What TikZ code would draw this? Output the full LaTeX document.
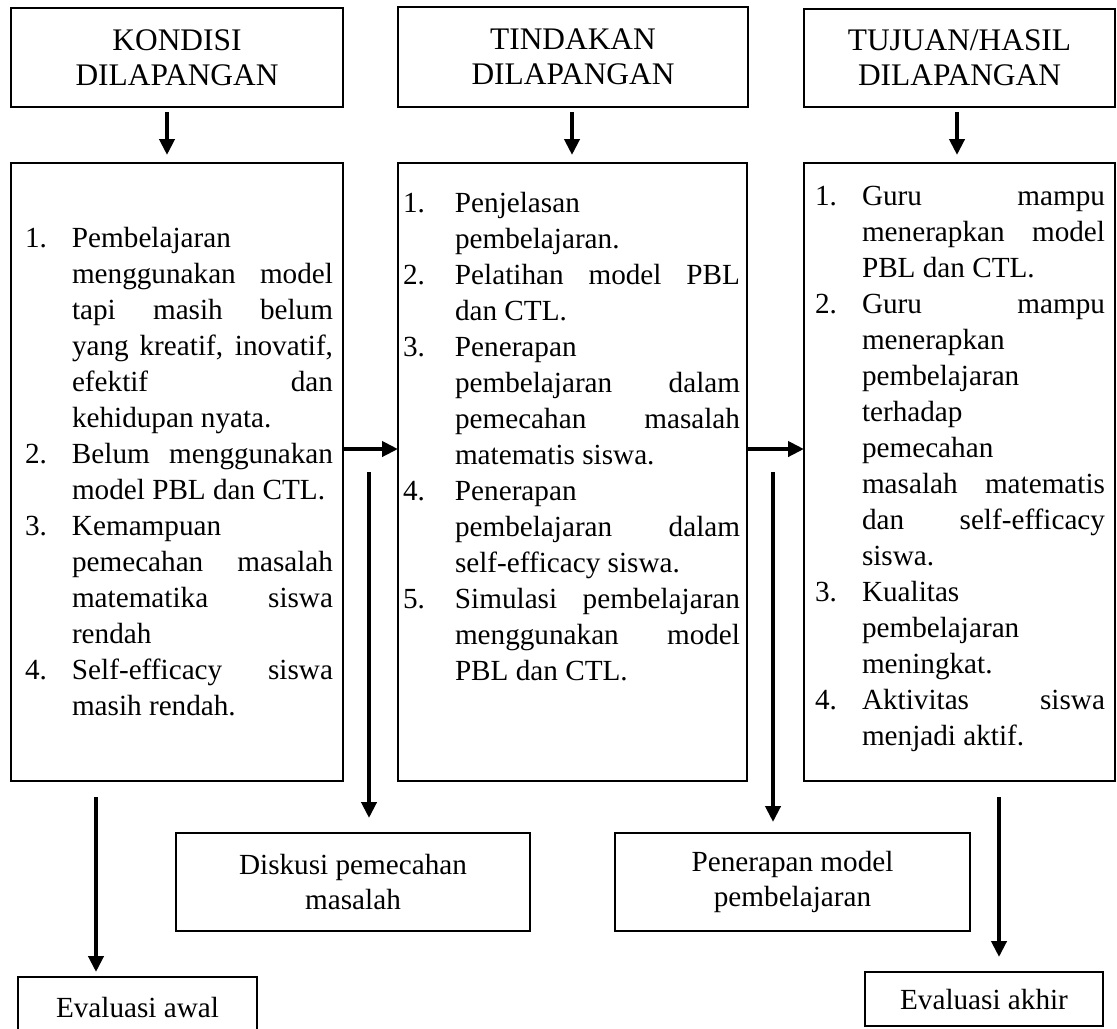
\documentclass[tikz,border=0pt]{standalone}
\usepackage{fontspec}
\setmainfont[Ligatures=CommonOff]{Liberation Serif}
\usetikzlibrary{arrows.meta}
\newlength\lcw
\newcommand\JLine[1]{\makebox[\lcw][s]{#1}}
\newcommand\LLine[1]{\makebox[\lcw][l]{#1}}
\begin{document}
\begin{tikzpicture}[x=0.4pt,y=-0.4pt,
  box/.style={draw, line width=1.1pt, inner sep=0pt, outer sep=0pt, anchor=north west},
  hdr/.style={font=\fontsize{12.56pt}{14pt}\selectfont, align=center},
  btx/.style={font=\fontsize{11.68pt}{14pt}\selectfont, align=center},
  lst/.style={inner sep=0pt, outer sep=0pt, anchor=base west, font=\fontsize{11.68pt}{14.4pt}\selectfont},
  arr/.style={line width=1.6pt, -{Triangle[length=6.4pt,width=6pt]}}]
\path[use as bounding box] (0,0) rectangle (1117,1028);
\clip (0,0) rectangle (1117,1028);

% header boxes
\node[box, hdr, minimum width=332*0.4pt, minimum height=99*0.4pt] (h1) at (11,8) {KONDISI\\DILAPANGAN};
\node[box, hdr, minimum width=350*0.4pt, minimum height=100*0.4pt] (h2) at (398,7) {TINDAKAN\\DILAPANGAN};
\node[box, hdr, minimum width=311*0.4pt, minimum height=98*0.4pt] (h3) at (804,9) {TUJUAN/HASIL\\DILAPANGAN};

% main boxes
\node[box, minimum width=332*0.4pt, minimum height=618*0.4pt] (m1) at (11,163) {};
\node[box, minimum width=349*0.4pt, minimum height=618*0.4pt] (m2) at (398,163) {};
\node[box, minimum width=311*0.4pt, minimum height=618*0.4pt] (m3) at (804,163) {};

% list texts
\node[lst] (l1) at (25,247) {\setlength\lcw{104.4pt}%
\begin{tabular}[t]{@{}p{18.8pt}@{}l@{}}
1. & \LLine{Pembelajaran}\\
   & \JLine{menggunakan model}\\
   & \JLine{tapi masih belum}\\
   & \JLine{yang kreatif, inovatif,}\\
   & \JLine{efektif dan}\\
   & \LLine{kehidupan nyata.}\\
2. & \JLine{Belum menggunakan}\\
   & \LLine{model PBL dan CTL.}\\
3. & \LLine{Kemampuan}\\
   & \JLine{pemecahan masalah}\\
   & \JLine{matematika siswa}\\
   & \LLine{rendah}\\
4. & \JLine{Self-efficacy siswa}\\
   & \LLine{masih rendah.}
\end{tabular}};

\node[lst] (l2) at (403,212) {\setlength\lcw{114pt}%
\begin{tabular}[t]{@{}p{20.8pt}@{}l@{}}
1. & \LLine{Penjelasan}\\
   & \LLine{pembelajaran.}\\
2. & \JLine{Pelatihan model PBL}\\
   & \LLine{dan CTL.}\\
3. & \LLine{Penerapan}\\
   & \JLine{pembelajaran dalam}\\
   & \JLine{pemecahan masalah}\\
   & \LLine{matematis siswa.}\\
4. & \LLine{Penerapan}\\
   & \JLine{pembelajaran dalam}\\
   & \LLine{self-efficacy siswa.}\\
5. & \JLine{Simulasi pembelajaran}\\
   & \JLine{menggunakan model}\\
   & \LLine{PBL dan CTL.}
\end{tabular}};

\node[lst] (l3) at (815,205) {\setlength\lcw{97.2pt}%
\begin{tabular}[t]{@{}p{18.8pt}@{}l@{}}
1. & \JLine{Guru mampu}\\
   & \JLine{menerapkan model}\\
   & \LLine{PBL dan CTL.}\\
2. & \JLine{Guru mampu}\\
   & \LLine{menerapkan}\\
   & \LLine{pembelajaran}\\
   & \LLine{terhadap}\\
   & \LLine{pemecahan}\\
   & \JLine{masalah matematis}\\
   & \JLine{dan self-efficacy}\\
   & \LLine{siswa.}\\
3. & \LLine{Kualitas}\\
   & \LLine{pembelajaran}\\
   & \LLine{meningkat.}\\
4. & \JLine{Aktivitas siswa}\\
   & \LLine{menjadi aktif.}
\end{tabular}};

% lower boxes
\node[box, btx, minimum width=354*0.4pt, minimum height=98*0.4pt] (d1) at (176,833) {Diskusi pemecahan\\masalah};
\node[box, btx, minimum width=355*0.4pt, minimum height=98*0.4pt] (d2) at (615,833) {Penerapan model\\pembelajaran};
\node[box, btx, minimum width=239*0.4pt, minimum height=60*0.4pt] (e1) at (18,977) {Evaluasi awal};
\node[box, btx, minimum width=238*0.4pt, minimum height=54*0.4pt] (e2) at (865,972) {Evaluasi akhir};

% connector end points
\coordinate (a1s) at (167,112); \coordinate (a1e) at (167,155);
\coordinate (a2s) at (572,112); \coordinate (a2e) at (572,155);
\coordinate (a3s) at (957,112); \coordinate (a3e) at (957,155);
\coordinate (hy) at (0,449);
\coordinate (v1s) at (369,472); \coordinate (v1e) at (369,818);
\coordinate (v2s) at (773,472); \coordinate (v2e) at (773,822);
\coordinate (v3s) at (96,797);  \coordinate (v3e) at (96,972);
\coordinate (v4s) at (999,797); \coordinate (v4e) at (999,957);

\draw[arr] (a1s) -- (a1e);
\draw[arr] (a2s) -- (a2e);
\draw[arr] (a3s) -- (a3e);
\draw[arr] (hy -| m1.east) -- (hy -| m2.west);
\draw[arr] (hy -| m2.east) -- (hy -| m3.west);
\draw[arr] (v1s) -- (v1e);
\draw[arr] (v2s) -- (v2e);
\draw[arr] (v3s) -- (v3e);
\draw[arr] (v4s) -- (v4e);
\end{tikzpicture}
\end{document}
